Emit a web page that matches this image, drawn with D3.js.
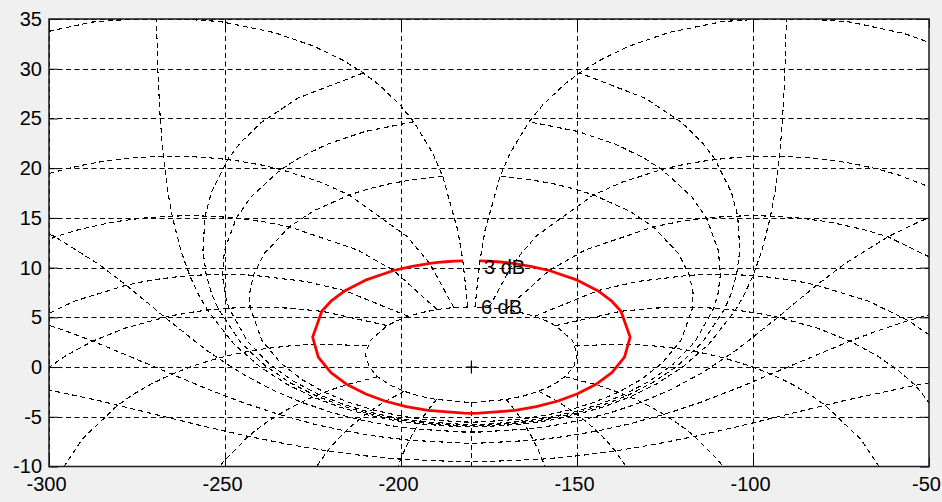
<!DOCTYPE html>
<html>
<head>
<meta charset="utf-8">
<script src="https://cdn.jsdelivr.net/npm/d3@7"></script>
<style>
  html, body { margin: 0; padding: 0; background: #f0f0f0; }
  svg { display: block; }
  .axis text { font-family: "Liberation Sans", Arial, sans-serif; font-size: 20px; fill: #000; }
  .axis path.domain { display: none; }
</style>
</head>
<body>
<div id="chart"></div>
<script>
// axis ticks (open-loop phase in deg, open-loop gain in dB)
const xTicks = [-300, -250, -200, -150, -100, -50];
const yTicks = [-10, -5, 0, 5, 10, 15, 20, 25, 30, 35];

// Nichols grid: closed-loop phase lines and the closed-loop gains they run through
const isoPhaseDeg = [1, 5, 10, 20, 30, 50, 90, 120, 150, 180];
const isoPhaseGainPts = [6, 3, 2, 1, .75, .5, .4, .3, .25, .2, .15, .1, .05, 0, -.05, -.1, -.15, -.2, -.25, -.3,
  -.4, -.5, -.75, -1, -2, -3, -4, -5, -6, -9, -12, -16, -20, -30, -40, -50, -60, -70, -80, -90, -100];

// closed-loop gain lines and the closed-loop phases they run through
const isoGainDb = [6, 3, 1, .5, .25, 0, -1, -3, -6, -12, -20, -40, -60, -80, -100];
const isoGainPhasePts = [1, 2, 3, 4, 5, 7.5, 10, 15, 20, 25, 30, 45, 60, 75, 90, 105, 120, 135, 150, 175, 180];

// red curve
const curvePhase = [-182.4, -184.8, -187.2, -189.5, -191.8, -197.2, -202.1, -210.1, -215.9, -219.9, -222.5,
  -225.1, -223.5, -219.9, -215.3, -210.0, -204.4, -198.5, -192.4, -182.1, -180.0,
  -177.9, -167.6, -161.6, -155.6, -150.0, -144.7, -140.1, -136.5, -134.9, -137.5,
  -140.1, -144.1, -149.9, -157.9, -162.8, -168.2, -170.5, -172.8, -175.2, -177.6];
const curveGain = [10.68, 10.65, 10.59, 10.52, 10.43, 10.11, 9.71, 8.74, 7.68, 6.62, 5.61,
  3.01, 1.01, -0.55, -1.76, -2.71, -3.44, -3.98, -4.36, -4.64, -4.65,
  -4.64, -4.36, -3.98, -3.44, -2.71, -1.76, -0.55, 1.01, 3.01, 5.61,
  6.62, 7.68, 8.74, 9.71, 10.11, 10.43, 10.52, 10.59, 10.65, 10.68];

const labelText = ["3 dB", "6 dB"];
const labelPhase = [-176.4, -177.3];
const labelGain = [10.1, 6.0];

const critical = [-180, 0];

const width = 942, height = 502;
const margin = { left: 49, right: 13, top: 19, bottom: 35.5 };

const x = d3.scaleLinear([-300, -50], [margin.left, width - margin.right]);
const y = d3.scaleLinear([-10, 35], [height - margin.bottom, margin.top]);

const svg = d3.select("#chart").append("svg")
  .attr("width", width)
  .attr("height", height);

svg.append("rect")
  .attr("width", width).attr("height", height)
  .attr("fill", "#f0f0f0");

svg.append("rect")
  .attr("x", margin.left).attr("y", margin.top)
  .attr("width", x.range()[1] - margin.left)
  .attr("height", y.range()[0] - margin.top)
  .attr("fill", "#fff");

svg.append("clipPath").attr("id", "plotClip")
  .append("rect")
  .attr("x", margin.left).attr("y", margin.top)
  .attr("width", x.range()[1] - margin.left)
  .attr("height", y.range()[0] - margin.top);

// closed loop T = M e^{j psi}  ->  open loop L = T / (1 - T)
function toOpenLoop(mDb, psiDeg) {
  const m = Math.pow(10, mDb / 20), p = psiDeg * Math.PI / 180;
  const tr = m * Math.cos(p), ti = m * Math.sin(p);
  const dr = 1 - tr, di = -ti;
  const den = dr * dr + di * di;
  const lr = (tr * dr + ti * di) / den, li = (ti * dr - tr * di) / den;
  const gain = 20 * Math.log10(Math.hypot(lr, li));
  const phase = ((Math.atan2(li, lr) * 180 / Math.PI + 360) % 360) - 360;
  return [phase, gain];
}

function buildGrid() {
  const lines = [];

  isoPhaseDeg.forEach(psi => {
    const pts = isoPhaseGainPts.map(g => toOpenLoop(g, psi));
    lines.push(pts);
    lines.push(pts.map(d => [-360 - d[0], d[1]]));
  });

  const psiAll = isoGainPhasePts.concat(isoGainPhasePts.slice(0, -1).reverse().map(p => 360 - p));
  isoGainDb.forEach(g => {
    lines.push(psiAll.map(p => toOpenLoop(g, p)));
  });

  return lines;
}

const line = d3.line()
  .x(d => x(d[0]))
  .y(d => y(d[1]));

const dash = "5,3.5";
const plot = svg.append("g").attr("clip-path", "url(#plotClip)");

// rectangular grid at the ticks
plot.append("g")
  .selectAll("line.vGrid")
  .data(xTicks)
  .join("line")
    .attr("class", "vGrid")
    .attr("x1", d => Math.round(x(d)) + 0.5)
    .attr("x2", d => Math.round(x(d)) + 0.5)
    .attr("y1", margin.top)
    .attr("y2", y.range()[0])
    .attr("stroke", "#000")
    .attr("stroke-dasharray", dash);

plot.append("g")
  .selectAll("line.hGrid")
  .data(yTicks)
  .join("line")
    .attr("class", "hGrid")
    .attr("x1", margin.left)
    .attr("x2", x.range()[1])
    .attr("y1", d => Math.round(y(d)) + 0.5)
    .attr("y2", d => Math.round(y(d)) + 0.5)
    .attr("stroke", "#000")
    .attr("stroke-dasharray", dash);

// nichols contours
plot.append("g")
  .selectAll("path")
  .data(buildGrid())
  .join("path")
    .attr("d", line)
    .attr("fill", "none")
    .attr("stroke", "#000")
    .attr("stroke-width", 1.1)
    .attr("shape-rendering", "crispEdges")
    .attr("stroke-dasharray", dash);

// highlighted contour
plot.append("path")
  .datum(d3.zip(curvePhase, curveGain))
  .attr("d", line)
  .attr("fill", "none")
  .attr("stroke", "#ff0000")
  .attr("stroke-width", 2.8)
  .attr("stroke-linejoin", "round");

plot.append("g")
  .selectAll("text")
  .data(labelText)
  .join("text")
    .attr("x", (d, i) => x(labelPhase[i]))
    .attr("y", (d, i) => y(labelGain[i]))
    .attr("dy", "0.35em")
    .attr("font-family", "Liberation Sans, Arial, sans-serif")
    .attr("font-size", 20)
    .attr("fill", "#000")
    .text(d => d);

plot.append("path")
  .attr("transform", `translate(${x(critical[0])}, ${y(critical[1])})`)
  .attr("d", "M-5.5,0H5.5M0,-6.5V6.5")
  .attr("stroke", "#000")
  .attr("stroke-width", 1.2);

// box and ticks
const x0 = margin.left, x1 = x.range()[1], y0 = margin.top, y1 = y.range()[0];
const fmt = d => String(d);

svg.append("g")
  .attr("class", "axis")
  .attr("transform", `translate(0, ${y1})`)
  .call(d3.axisBottom(x).tickValues(xTicks).tickSize(-9).tickPadding(10).tickFormat(fmt))
  .call(g => g.selectAll("text").attr("dx", -3));

svg.append("g")
  .attr("class", "axis")
  .attr("transform", `translate(${x0}, 0)`)
  .call(d3.axisLeft(y).tickValues(yTicks).tickSize(-9).tickPadding(7).tickFormat(fmt));

svg.append("g")
  .attr("class", "axis")
  .attr("transform", `translate(0, ${y0})`)
  .call(d3.axisTop(x).tickValues(xTicks).tickSize(-9).tickFormat(""));

svg.append("g")
  .attr("class", "axis")
  .attr("transform", `translate(${x1}, 0)`)
  .call(d3.axisRight(y).tickValues(yTicks).tickSize(-9).tickFormat(""));

svg.selectAll(".axis .tick line").attr("stroke", "#000");

svg.append("rect")
  .attr("x", x0).attr("y", y0)
  .attr("width", x1 - x0).attr("height", y1 - y0)
  .attr("fill", "none")
  .attr("stroke", "#1a1a1a")
  .attr("stroke-width", 1.5);
</script>
</body>
</html>
